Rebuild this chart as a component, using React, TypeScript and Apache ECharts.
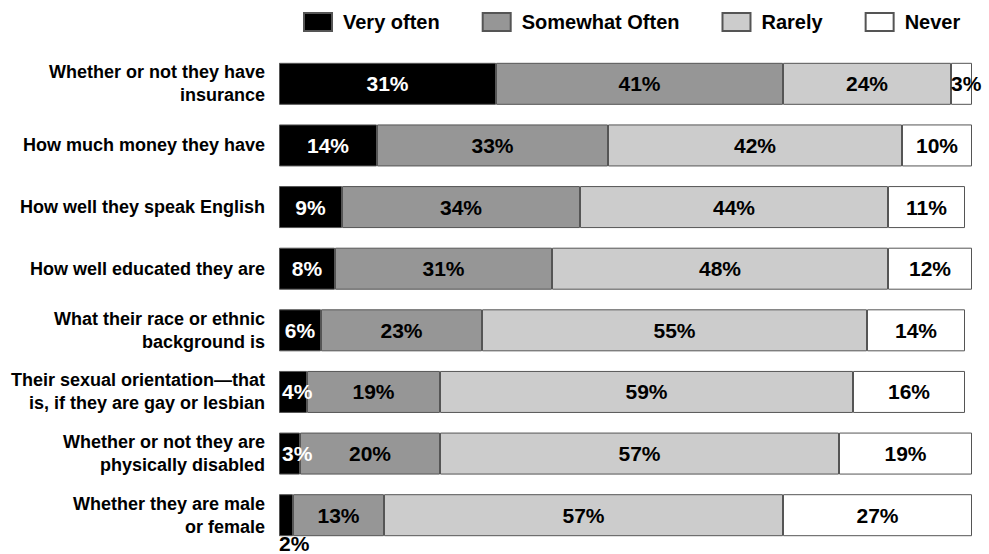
import React, { useEffect, useRef } from "react";
import * as echarts from "echarts";

const categories = [
  "Whether or not they have\ninsurance",
  "How much money they have",
  "How well they speak English",
  "How well educated they are",
  "What their race or ethnic\nbackground is",
  "Their sexual orientation\u2014that\nis, if they are gay or lesbian",
  "Whether or not they are\nphysically disabled",
  "Whether they are male\nor female",
];

const seriesNames = ["Very often", "Somewhat Often", "Rarely", "Never"];
const veryOften = [31, 14, 9, 8, 6, 4, 3, 2];
const somewhatOften = [41, 33, 34, 31, 23, 19, 20, 13];
const rarely = [24, 42, 44, 48, 55, 59, 57, 57];
const never = [3, 10, 11, 12, 14, 16, 19, 27];

const colors = ["#000000", "#969696", "#cccccc", "#ffffff"];
const FONT = "'Liberation Sans', Arial, sans-serif";

function labelFor(seriesIdx: number, v: number): any {
  const base: any = {
    show: true,
    formatter: "{c}%",
    fontFamily: FONT,
    fontWeight: "bold",
    fontSize: 21,
    color: seriesIdx === 0 ? "#ffffff" : "#000000",
    position: "inside",
  };
  if (seriesIdx === 0) {
    if (v <= 2) {
      return {
        ...base,
        color: "#000000",
        position: [0, 59],
        align: "left",
        verticalAlign: "bottom",
        lineHeight: 19,
      };
    }
    if (v <= 4) {
      return { ...base, position: "insideLeft", distance: 3 };
    }
  }
  if (seriesIdx === 3 && v <= 3) {
    return { ...base, position: "insideLeft", distance: 0 };
  }
  return base;
}

export default function App() {
  const ref = useRef<HTMLDivElement>(null);
  useEffect(() => {
    if (!ref.current) return;
    const chart = echarts.init(ref.current, undefined, { renderer: "svg" });
    const all = [veryOften, somewhatOften, rarely, never];
    const series = all.map((arr, si) => ({
      name: seriesNames[si],
      type: "bar",
      stack: "total",
      barWidth: 42,
      itemStyle: {
        color: colors[si],
        borderColor: "#555555",
        borderWidth: 1,
      },
      data: arr.map((v) => ({ value: v, label: labelFor(si, v) })),
    }));
    chart.setOption({
      animation: false,
      backgroundColor: "#ffffff",
      legend: {
        left: 303,
        top: 12,
        padding: 0,
        icon: "rect",
        itemWidth: 28,
        itemHeight: 18,
        itemGap: 42,
        data: seriesNames,
        textStyle: {
          fontFamily: FONT,
          fontWeight: "bold",
          fontSize: 20,
          color: "#000000",
          padding: [0, 0, 0, 6],
        },
      },
      grid: { left: 279, right: 10, top: 53, bottom: 8, containLabel: false },
      xAxis: {
        type: "value",
        min: 0,
        max: 100,
        show: false,
      },
      yAxis: {
        type: "category",
        inverse: true,
        data: categories,
        axisLine: { show: false },
        axisTick: { show: false },
        axisLabel: {
          margin: 14,
          align: "right",
          fontFamily: FONT,
          fontWeight: "bold",
          fontSize: 18,
          lineHeight: 23,
          color: "#000000",
          padding: [12, 0, 0, 0],
        },
      },
      series,
    });
    return () => chart.dispose();
  }, []);
  return (
    <div
      ref={ref}
      style={{ position: "fixed", left: 0, top: 0, width: 989, height: 554, background: "#fff" }}
    />
  );
}
